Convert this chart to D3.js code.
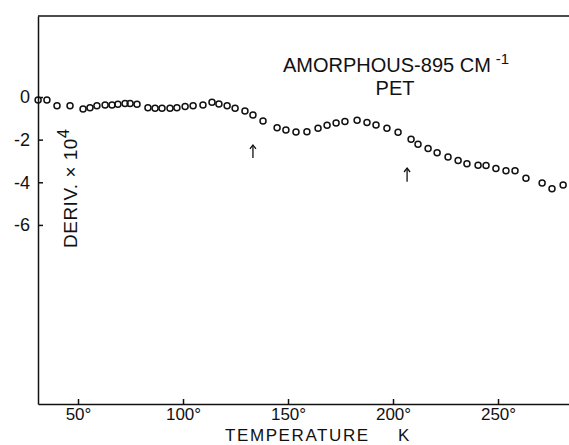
<!DOCTYPE html>
<html>
<head>
<meta charset="utf-8">
<script src="https://cdn.jsdelivr.net/npm/d3@7"></script>
<style>
  body { margin: 0; background: #fff; }
  svg { display: block; }
  text { font-family: "Liberation Sans", Arial, sans-serif; fill: #111; }
</style>
</head>
<body>
<svg id="chart"></svg>
<script>
// temperature (K) and derivative (x 1e-4)
const temps = [31, 35.2, 40.0, 46.2, 52.4, 55.7, 59.0, 62.9, 66.2, 69.0, 72.4, 74.8, 78.1,
  83.3, 86.7, 90.0, 93.8, 97.1, 101.0, 104.8, 109.5, 113.8, 117.1, 121.0, 124.8, 129.5, 133.3,
  138.1, 144.8, 149.0, 153.8, 159.0, 164.3, 168.6, 172.9, 177.1, 182.9, 187.6, 191.9, 197.1,
  202.4, 208.6, 211.9, 216.7, 221.0, 226.2, 231.0, 235.2, 240.5, 244.3, 249.0, 253.8, 258.1,
  263.3, 271.0, 275.7, 281.0];
const deriv = [-0.14, -0.14, -0.41, -0.41, -0.56, -0.50, -0.41, -0.38, -0.38, -0.34, -0.30, -0.30, -0.34,
  -0.50, -0.53, -0.53, -0.53, -0.50, -0.45, -0.41, -0.38, -0.25, -0.33, -0.41, -0.53, -0.66, -0.84,
  -1.13, -1.44, -1.55, -1.64, -1.63, -1.47, -1.33, -1.22, -1.15, -1.09, -1.20, -1.31, -1.47,
  -1.65, -1.98, -2.22, -2.41, -2.62, -2.81, -2.98, -3.13, -3.20, -3.21, -3.35, -3.46, -3.46,
  -3.81, -4.03, -4.30, -4.13];
const xTicks = [50, 100, 150, 200, 250];
const yTicks = [0, -2, -4, -6];
// arrows marking transitions: [temp, tail value, head value]
const arrows = [[133.3, -2.86, -2.25], [206.7, -3.98, -3.33]];

const width = 569, height = 445;
const svg = d3.select('#chart')
  .attr('width', width)
  .attr('height', height);

const x = d3.scaleLinear()
  .domain([30.95, 283.8])
  .range([38, 569]);
const y = d3.scaleLinear()
  .domain([3.8, -14.4])
  .range([16, 404]);

// top frame line
svg.append('line')
  .attr('x1', x.range()[0]).attr('x2', x.range()[1])
  .attr('y1', y.range()[0]).attr('y2', y.range()[0])
  .style('stroke', '#111')
  .style('stroke-width', 1.5);

const xAxis = svg.append('g')
  .attr('transform', `translate(0, ${y.range()[1]})`)
  .call(d3.axisBottom(x)
    .tickValues(xTicks)
    .tickSize(-5)
    .tickSizeOuter(0)
    .tickPadding(4)
    .tickFormat(d => d + '°'));
xAxis.selectAll('text').style('font-size', '17px');

const yAxis = svg.append('g')
  .attr('transform', `translate(${x.range()[0]}, 0)`)
  .call(d3.axisLeft(y)
    .tickValues(yTicks)
    .tickSize(-5)
    .tickSizeOuter(0)
    .tickPadding(8)
    .tickFormat(d => String(d)));
yAxis.selectAll('text').style('font-size', '18px');

svg.selectAll('.domain, .tick line')
  .style('stroke', '#111')
  .style('stroke-width', 1.5);

// data points
svg.append('g')
  .selectAll('circle')
  .data(temps)
  .enter()
    .append('circle')
    .attr('cx', d => x(d))
    .attr('cy', (_, i) => y(deriv[i]))
    .attr('r', 3)
    .style('fill', 'none')
    .style('stroke', '#111')
    .style('stroke-width', 1.5);

// arrows
const ag = svg.append('g')
  .selectAll('g')
  .data(arrows)
  .enter()
    .append('g');
ag.append('line')
  .attr('x1', d => x(d[0])).attr('x2', d => x(d[0]))
  .attr('y1', d => y(d[1])).attr('y2', d => y(d[2]))
  .style('stroke', '#111')
  .style('stroke-width', 1.3);
ag.append('path')
  .attr('d', d => `M${x(d[0]) - 3},${y(d[2]) + 4} L${x(d[0])},${y(d[2])} L${x(d[0]) + 3},${y(d[2]) + 4}`)
  .style('fill', 'none')
  .style('stroke', '#111')
  .style('stroke-width', 1.3);

// title
const title = svg.append('text')
  .attr('x', 283)
  .attr('y', 72)
  .style('font-size', '20px');
title.append('tspan').text('AMORPHOUS-895 CM');
title.append('tspan')
  .attr('dx', 5)
  .attr('dy', -8)
  .style('font-size', '15px')
  .text('-1');
svg.append('text')
  .attr('x', 395)
  .attr('y', 95)
  .attr('text-anchor', 'middle')
  .style('font-size', '20px')
  .text('PET');

// axis labels
const ylab = svg.append('text')
  .attr('transform', 'translate(77, 248) rotate(-90)')
  .style('font-size', '19px')
  .style('letter-spacing', '0.5px');
ylab.append('tspan').text('DERIV. × 10');
ylab.append('tspan')
  .attr('dy', -8)
  .style('font-size', '16px')
  .text('4');

svg.append('text')
  .attr('x', 225)
  .attr('y', 441)
  .style('font-size', '17px')
  .style('letter-spacing', '1.6px')
  .text('TEMPERATURE');
svg.append('text')
  .attr('x', 398)
  .attr('y', 441)
  .style('font-size', '17px')
  .text('K');
</script>
</body>
</html>
